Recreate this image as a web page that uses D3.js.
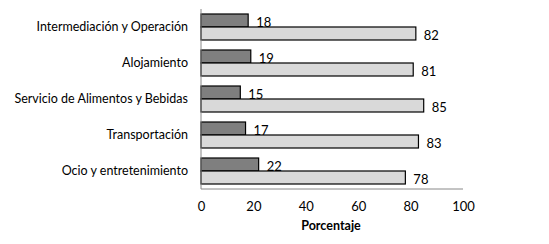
<!DOCTYPE html>
<html><head><meta charset="utf-8">
<script src="https://cdn.jsdelivr.net/npm/d3@7"></script>
<style>body{margin:0;background:#fff}</style>
</head><body>
<svg id="c" width="549" height="244"></svg>
<script>
const categories = ["Intermediación y Operación","Alojamiento","Servicio de Alimentos y Bebidas","Transportación","Ocio y entretenimiento"];
const seriesA = [18,19,15,17,22];
const seriesB = [82,81,85,83,78];
const xTicks = [0,20,40,60,80,100];
const xTitle = "Porcentaje";

const svg = d3.select("#c");
const font = "Lato, 'Open Sans', sans-serif";
const x = d3.scaleLinear().domain([0,100]).range([201,463]);
const y = d3.scaleBand().domain(categories).range([9,189]).paddingInner(10/36).paddingOuter(5/36);
const bh = y.bandwidth()/2;

const g = svg.append("g");
categories.forEach((c,i)=>{
  const y0 = y(c);
  g.append("rect").attr("x",x(0)).attr("y",y0).attr("width",x(seriesA[i])-x(0)).attr("height",bh)
    .attr("fill","#7f7f7f").attr("stroke","#000").attr("stroke-width",1.2);
  g.append("rect").attr("x",x(0)).attr("y",y0+bh).attr("width",x(seriesB[i])-x(0)).attr("height",bh)
    .attr("fill","#d9d9d9").attr("stroke","#000").attr("stroke-width",1.2);
  g.append("text").attr("x",x(seriesA[i])+8).attr("y",y0+bh/2+1.5).attr("dy","0.35em")
    .attr("font-family",font).attr("font-size",13).text(seriesA[i]);
  g.append("text").attr("x",x(seriesB[i])+8).attr("y",y0+bh*1.5+1.5).attr("dy","0.35em")
    .attr("font-family",font).attr("font-size",13).text(seriesB[i]);
});

// y axis
const ya = svg.append("g").attr("transform",`translate(${x(0)},0)`)
  .call(d3.axisLeft(y).tickSize(0).tickPadding(13));
ya.select(".domain").attr("d",`M0,9V189`).attr("stroke","#888");
ya.selectAll("text").attr("font-family",font).attr("font-size",12.5).attr("fill","#000");

// x axis
const xa = svg.append("g").attr("transform",`translate(0,189)`)
  .call(d3.axisBottom(x).tickValues(xTicks).tickSize(0).tickPadding(13));
xa.select(".domain").attr("d",`M${x(0)},0H${x(100)}`).attr("stroke","#888");
xa.selectAll("text").attr("font-family",font).attr("font-size",13).attr("fill","#000");

svg.append("text").attr("x",331).attr("y",230).attr("text-anchor","middle")
  .attr("font-family",font).attr("font-size",12.5).attr("font-weight","bold").text(xTitle);
</script>
</body></html>
